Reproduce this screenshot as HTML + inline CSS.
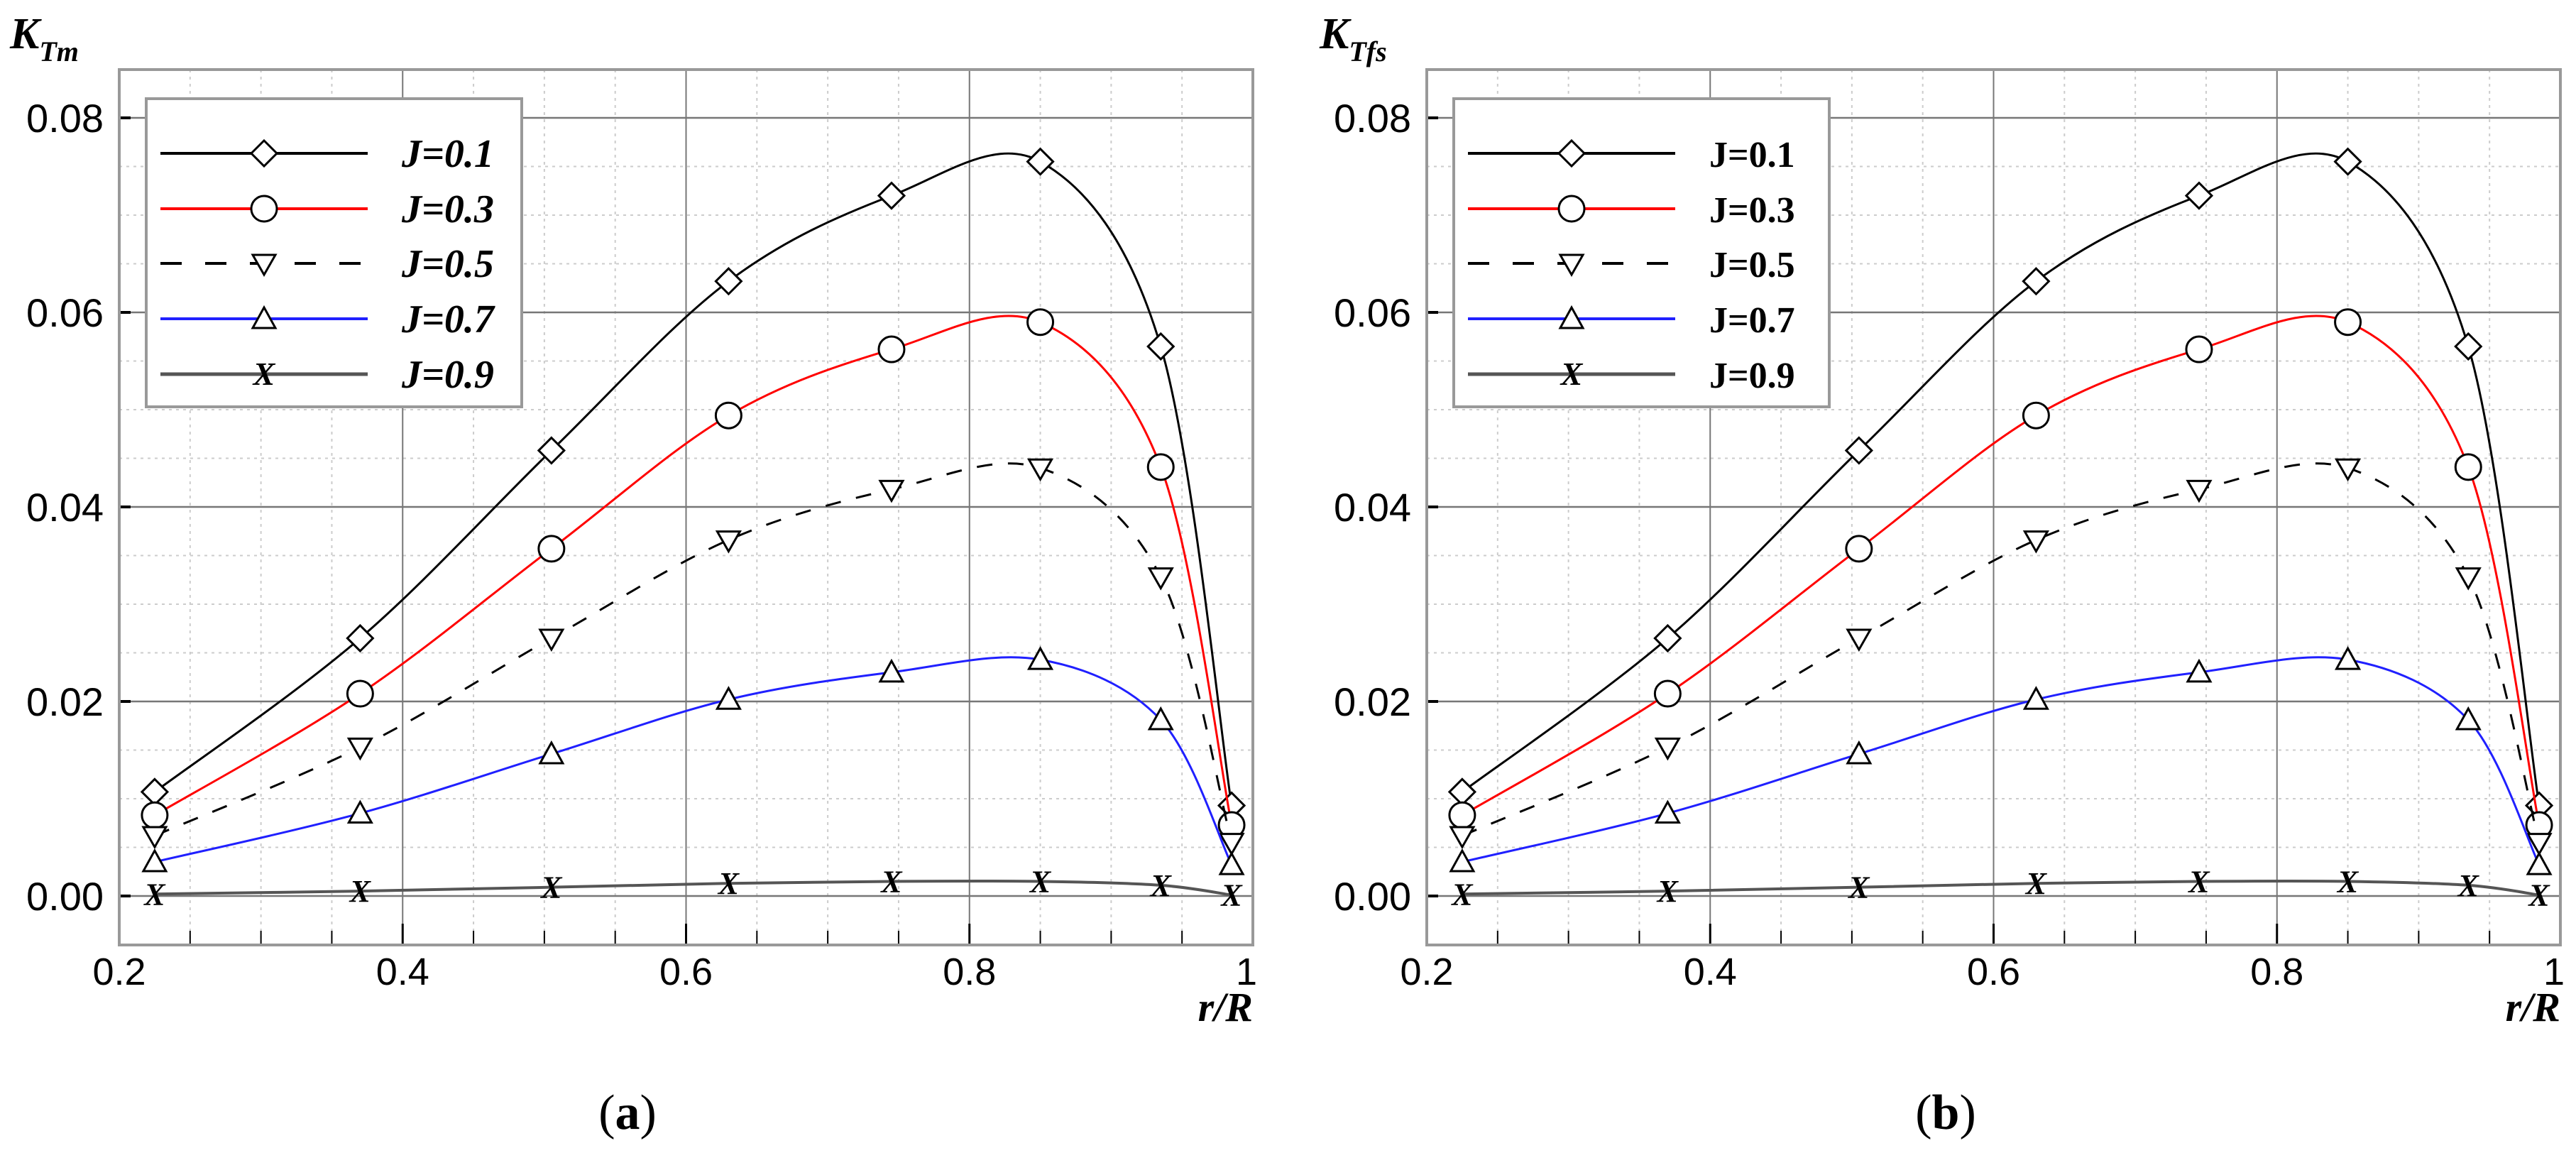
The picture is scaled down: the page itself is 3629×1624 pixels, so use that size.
<!DOCTYPE html>
<html><head><meta charset="utf-8"><style>
html,body{margin:0;padding:0;background:#fff;width:3629px;height:1624px;overflow:hidden}
svg{display:block}
</style></head><body>
<svg id="chart" xmlns="http://www.w3.org/2000/svg" width="3629" height="1624" viewBox="0 0 3629 1624"></svg>
<script>
const xValues = [0.225, 0.37, 0.505, 0.63, 0.745, 0.85, 0.935, 0.985];
const seriesJ01 = [0.0107, 0.0265, 0.0458, 0.0632, 0.0720, 0.0755, 0.0565, 0.0093];
const seriesJ03 = [0.0083, 0.0208, 0.0357, 0.0494, 0.0562, 0.0590, 0.0441, 0.0073];
const seriesJ05 = [0.0062, 0.0153, 0.0265, 0.0366, 0.0418, 0.0440, 0.0328, 0.0055];
const seriesJ07 = [0.0035, 0.0085, 0.0146, 0.0202, 0.0230, 0.0243, 0.0181, 0.0032];
const seriesJ09 = [0.0002, 0.0005, 0.0009, 0.0013, 0.0015, 0.0015, 0.0011, 0.0001];
const seriesLabels = ["J=0.1", "J=0.3", "J=0.5", "J=0.7", "J=0.9"];
const xTickLabels = ["0.2", "0.4", "0.6", "0.8", "1"];
const xTickValues = [0.2, 0.4, 0.6, 0.8, 1.0];
const yTickLabels = ["0.00", "0.02", "0.04", "0.06", "0.08"];
const yTickValues = [0, 0.02, 0.04, 0.06, 0.08];

const NS = "http://www.w3.org/2000/svg";
const svg = document.getElementById('chart');
function mk(tag, attrs, parent, text){
  const e = document.createElementNS(NS, tag);
  for (const k in attrs) e.setAttribute(k, attrs[k]);
  if (text !== undefined) e.textContent = text;
  (parent||svg).appendChild(e);
  return e;
}
const styles = [
  {color:"#000", dash:null, marker:"diamond", w:3},
  {color:"#ff0000", dash:null, marker:"circle", w:3},
  {color:"#000", dash:"22,22", marker:"tri-down", w:3},
  {color:"#2020ff", dash:null, marker:"tri-up", w:3},
  {color:"#555", dash:null, marker:"x", w:4}
];
const allSeries = [seriesJ01, seriesJ03, seriesJ05, seriesJ07, seriesJ09];

function drawMarker(g, type, cx, cy, name, big){
  let m;
  if (type==="diamond") m = mk('polygon',{points:`${cx},${cy-18} ${cx+18},${cy} ${cx},${cy+18} ${cx-18},${cy}`,fill:"#fff",stroke:"#000","stroke-width":3},g);
  else if (type==="circle") m = mk('circle',{cx:cx,cy:cy,r:18,fill:"#fff",stroke:"#000","stroke-width":3},g);
  else if (type==="tri-down") m = mk('polygon',{points:`${cx-16},${cy-12} ${cx+16},${cy-12} ${cx},${cy+16}`,fill:"#fff",stroke:"#000","stroke-width":3},g);
  else if (type==="tri-up") m = mk('polygon',{points:`${cx-16},${cy+13} ${cx+16},${cy+13} ${cx},${cy-16}`,fill:"#fff",stroke:"#000","stroke-width":3},g);
  else m = mk('text',{x:cx,y:cy+15,"text-anchor":"middle","font-family":"Liberation Serif, serif","font-weight":"bold","font-style":"italic","font-size":big?46:44,fill:"#000"},g,"X");
  
  
}

function panel(dx, ySub, italicLegend, caption, pname){
  const L = 168+dx, R = 1765+dx, T = 98, B = 1331;
  const xs = v => L + (v-0.2)/0.8*(R-L);
  const ys = v => 1262 - v*13700;
  const g = mk('g',{});
  
  
  for (let i=1;i<16;i++){ const v=0.2+i*0.05; if (i%4===0) continue;
    mk('line',{x1:xs(v),x2:xs(v),y1:T,y2:B,stroke:"#ccc","stroke-width":2,"stroke-dasharray":"4,6"},g); }
  for (let v=-0.005; v<0.085; v+=0.005){ const r=Math.round(v*1000)/1000; if (Math.abs(Math.round(r/0.02)*0.02-r)<1e-6) continue;
    mk('line',{x1:L,x2:R,y1:ys(r),y2:ys(r),stroke:"#ccc","stroke-width":2,"stroke-dasharray":"4,6"},g); }
  xTickValues.forEach(v=>{ if(v>0.2&&v<1) mk('line',{x1:xs(v),x2:xs(v),y1:T,y2:B,stroke:"#777","stroke-width":2},g); });
  yTickValues.forEach(v=>{ mk('line',{x1:L,x2:R,y1:ys(v),y2:ys(v),stroke:"#777","stroke-width":2.5},g); });
  for (let i=0;i<=16;i++){ const v=0.2+i*0.05; const maj=i%4===0;
    mk('line',{x1:xs(v),x2:xs(v),y1:B,y2:B-(maj?30:20),stroke:"#000","stroke-width":maj?3:2},g); }
  yTickValues.forEach(v=>mk('line',{x1:L,x2:L+16,y1:ys(v),y2:ys(v),stroke:"#000","stroke-width":4},g));
  const fr = mk('rect',{x:L,y:T,width:R-L,height:B-T,fill:"none",stroke:"#999","stroke-width":4},g);
   
  xTickValues.forEach((v,i)=>{ const t=mk('text',{x:xs(v),y:1387,"text-anchor":i===4?"end":"middle","font-family":"Liberation Sans, sans-serif","font-size":54,fill:"#000"},g,xTickLabels[i]);
    if(i===4) t.setAttribute('x', xs(v)+6);
      });
  yTickValues.forEach((v,i)=>{ const t=mk('text',{x:L-22,y:ys(v)+20,"text-anchor":"end","font-family":"Liberation Sans, sans-serif","font-size":56,fill:"#000"},g,yTickLabels[i]);
      });
  const yt = mk('text',{x:dx+(dx?17:14),y:68,"font-family":"Liberation Serif, serif","font-weight":"bold","font-style":"italic","font-size":62,fill:"#000"},g);
   
  mk('tspan',{},yt,"K");
  mk('tspan',{dy:18,"font-size":40},yt,ySub);
  const xt = mk('text',{x:R,y:1438,"text-anchor":"end","font-family":"Liberation Serif, serif","font-weight":"bold","font-style":"italic","font-size":58,fill:"#000"},g,"r/R");
   
  allSeries.forEach((vals,si)=>{
    const st = styles[si];
    const pts = vals.map((v,i)=>[xs(xValues[i]), ys(v)]);
    let d = `M${pts[0][0]},${pts[0][1]}`;
    for (let i=0;i<pts.length-1;i++){
      const p0=pts[Math.max(0,i-1)], p1=pts[i], p2=pts[i+1], p3=pts[Math.min(pts.length-1,i+2)];
      const c1=[p1[0]+(p2[0]-p0[0])/6, p1[1]+(p2[1]-p0[1])/6];
      const c2=[p2[0]-(p3[0]-p1[0])/6, p2[1]-(p3[1]-p1[1])/6];
      d += ` C${c1[0]},${c1[1]} ${c2[0]},${c2[1]} ${p2[0]},${p2[1]}`;
    }
    const sg = mk('g',{},g);
     
    const a = {d:d,fill:"none",stroke:st.color,"stroke-width":st.w};
    if (st.dash) a["stroke-dasharray"]=st.dash;
    const ln = mk('path',a,sg);
     
    pts.forEach(p=>drawMarker(sg, st.marker, p[0], p[1], 'data-point'));
  });
  const lg = mk('g',{},g);
   
  mk('rect',{x:206+dx,y:139,width:529,height:434,fill:"#fff",stroke:"#999","stroke-width":4},lg);
  const rows=[216,294,371,449,527];
  seriesLabels.forEach((lab,i)=>{
    const st=styles[i];
    const e = mk('g',{},lg);
     
    const a={x1:226+dx,x2:518+dx,y1:rows[i],y2:rows[i],stroke:st.color,"stroke-width":st.w+1};
    if(st.dash) a["stroke-dasharray"]="30,33";
    mk('line',a,e);
    drawMarker(e, st.marker, 372+dx, rows[i], 'legend-marker', true);
    const t = mk('text',{x:566+dx,y:rows[i]+19,"font-family":"Liberation Serif, serif","font-weight":"bold","font-size":italicLegend?56:52,fill:"#000"},e,lab);
    if (italicLegend) t.setAttribute('font-style','italic');
  });
  const cap = mk('text',{x:884+dx+(dx?15:0),y:1590,"text-anchor":"middle","font-family":"Liberation Serif, serif","font-size":70,fill:"#000"},g);
   
  mk('tspan',{},cap,"(");
  mk('tspan',{"font-weight":"bold"},cap,caption);
  mk('tspan',{},cap,")");
}
panel(0, "Tm", true, "a", "panel-a");
panel(1842, "Tfs", false, "b", "panel-b");
</script>
</body></html>
